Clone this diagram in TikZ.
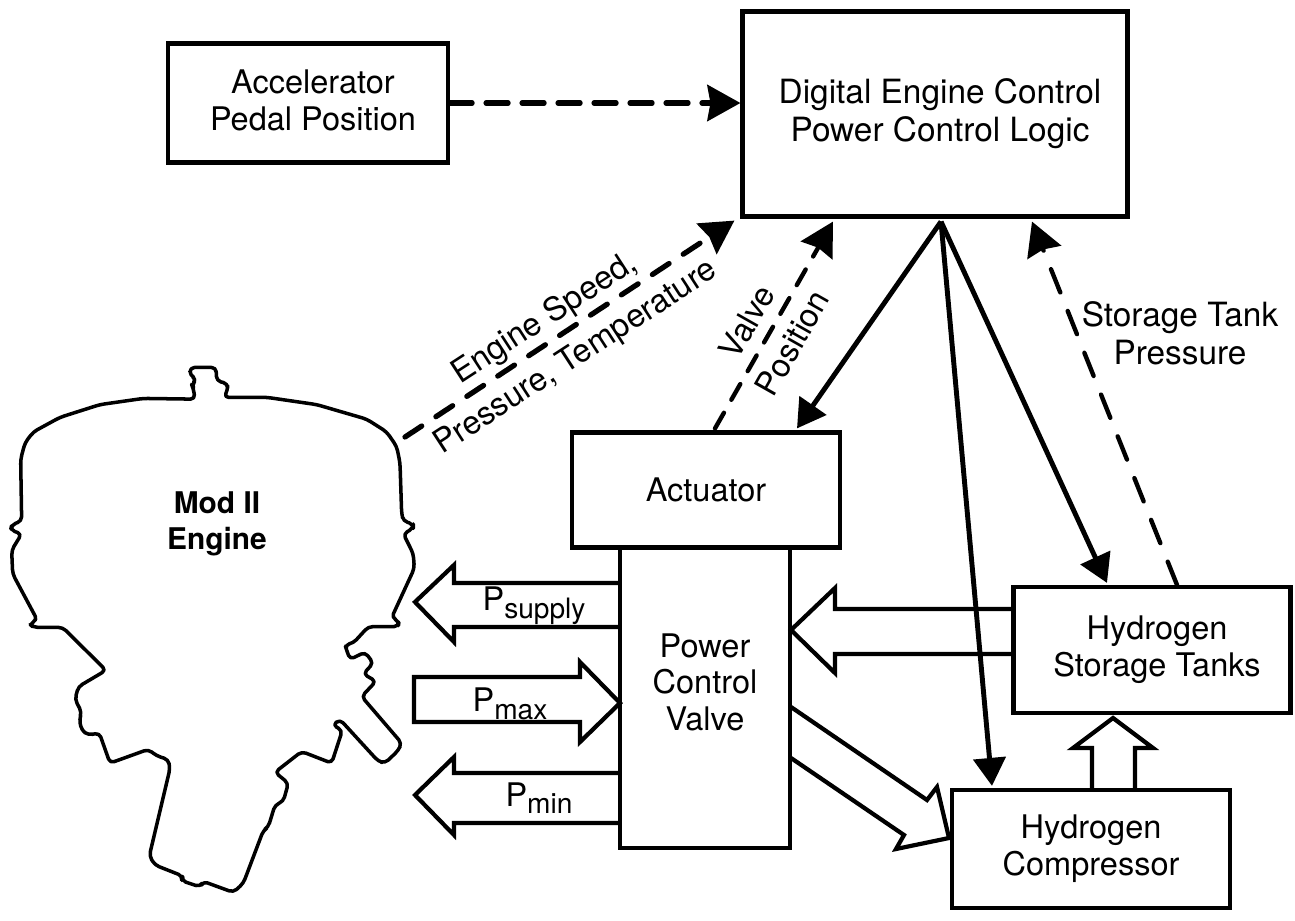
\documentclass[tikz,border=0pt]{standalone}
\usepackage{fontspec}
\setmainfont{TeX Gyre Heros}
\usetikzlibrary{calc,arrows.meta}

\newcommand{\psub}[1]{P\raisebox{-0.45ex}{\fontsize{16}{16}\selectfont #1}}
\newcommand{\nudge}{\hspace*{0.2cm}}

\tikzset{
  block/.style={draw, line width=2.4pt, inner sep=0pt, align=center},
  flow/.style={line width=2.8pt, -{Triangle[length=0.56cm,width=0.64cm]}},
  signal/.style={line width=3pt, line cap=round, -{Stealth[length=0.66cm,width=0.72cm,inset=0.06cm]}},
  thinsignal/.style={signal, line width=2.5pt},
  hollow/.style={line width=2.4pt, line join=miter},
  outline/.style={line width=2pt, rounded corners=2.5pt, line join=round},
  label/.style={inner sep=0pt, align=center}
}

\begin{document}
\begin{tikzpicture}[x=0.02cm, y=-0.02cm, font=\fontsize{18.5}{21}\selectfont]

\useasboundingbox (0,0) rectangle (1295,920);

\node[block, minimum width=5.6cm, minimum height=2.38cm] (pedal) at (308,103) {\nudge Accelerator\\\nudge Pedal Position\\[-0.62cm]};
\node[block, minimum width=7.7cm, minimum height=4.1cm, font=\fontsize{19}{21.5}\selectfont] (logic) at (935,114) {\nudge Digital Engine Control\\\nudge Power Control Logic};
\node[block, minimum width=5.36cm, minimum height=2.3cm] (actuator) at (706,490) {Actuator};
\node[block, minimum width=3.4cm, minimum height=6cm] (valve) at (705,698) {Power\\Control\\Valve\\[-0.1cm]};
\node[block, minimum width=5.54cm, minimum height=2.52cm] (tanks) at (1152,650) {\nudge Hydrogen\\\nudge Storage Tanks};
\node[block, minimum width=5.56cm, minimum height=2.36cm] (compressor) at (1091,849) {Hydrogen\\Compressor};

% free ends on the box edges
\coordinate (logic out) at ($(logic.south)+(6,3)$);
\coordinate (valve in) at ($(logic.south)+(-102,3)$);
\coordinate (engine in) at ($(logic.south west)+(-6,2)$);
\coordinate (tank in) at ($(logic.south)+(97,3)$);
\coordinate (actuator in) at ($(actuator.north)+(91,-2)$);
\coordinate (actuator out) at ($(actuator.north)+(9,-2)$);
\coordinate (tanks in) at ($(tanks.north)+(-45,-2)$);
\coordinate (tanks out) at ($(tanks.north)+(25,0)$);
\coordinate (compressor in) at ($(compressor.north)+(-99,-2)$);
\coordinate (engine out) at (405,437);

\draw[signal, dash pattern=on 0.44cm off 0.28cm] (pedal.east) -- (pedal.east -| logic.west);
\draw[signal, dash pattern=on 0.4cm off 0.34cm] (engine out) -- (engine in);
\draw[thinsignal, dash pattern=on 0.36cm off 0.3cm] (actuator out) -- (valve in);
\draw[thinsignal, dash pattern=on 0.5cm off 0.4cm] (tanks out) -- (tank in);
\draw[flow] (logic out) -- (actuator in);
\draw[flow] (logic out) -- (compressor in);
\draw[flow] (logic out) -- (tanks in);

% hollow arrows
\draw[hollow] (620,583) -- (454,583) -- (454,565) -- (415,602) -- (454,642) -- (454,627) -- (620,627);
\draw[hollow] (580,677) -- (414,677) -- (414,722) -- (580,722) -- (580,742) -- (620,703) -- (580,662) -- cycle;
\draw[hollow] (620,773) -- (454,773) -- (454,757) -- (415,795) -- (454,835) -- (454,823) -- (620,823);
\draw[hollow] (1013,609) -- (835,609) -- (835,588) -- (791,630) -- (835,673) -- (835,654) -- (1013,654);
\draw[hollow] (791,707) -- (927,800) -- (937,787) -- (949,838) -- (896,849) -- (904,835) -- (791,758);
\draw[hollow] (1092,788) -- (1092,748) -- (1073,748) -- (1113,718) -- (1153,748) -- (1135,748) -- (1135,788);

% engine outline, traced from the left of the cap
\begin{scope}[shift={(0,350)}, xscale=1/3, yscale=0.364]
\draw[outline] (585,135) -- (580,105) -- (575,95) -- (590,80) -- (570,70) -- (570,48) -- (648,48) -- (650,85) -- (683,92) -- (683,110) -- (672,130)
  -- (800,130) -- (950,150) -- (1100,190) -- (1160,225) -- (1190,265) -- (1200,310) -- (1205,450) -- (1210,470) -- (1240,478) -- (1240,490) -- (1210,505)
  -- (1240,560) -- (1243,600) -- (1175,735) -- (1197,745) -- (1195,760) -- (1105,760) -- (1060,805) -- (1035,810) -- (1040,825) -- (1050,850) -- (1095,830)
  -- (1120,860) -- (1090,890) -- (1128,910) -- (1085,952) -- (1205,1080) -- (1195,1100) -- (1155,1135) -- (1135,1130) -- (1020,1015) -- (998,1030) -- (1027,1045)
  -- (995,1135) -- (905,1103) -- (825,1160) -- (865,1190) -- (850,1240) -- (825,1250) -- (805,1310) -- (790,1320) -- (730,1465) -- (700,1490) -- (610,1460)
  -- (600,1475) -- (545,1458) -- (548,1445) -- (465,1415) -- (448,1390) -- (510,1150) -- (505,1125) -- (470,1115) -- (445,1097) -- (330,1135) -- (298,1052)
  -- (265,1058) -- (245,1045) -- (238,1015) -- (245,995) -- (225,960) -- (235,925) -- (318,880) -- (188,762) -- (100,762) -- (88,752) -- (112,742) -- (38,615)
  -- (35,550) -- (65,505) -- (32,495) -- (35,480) -- (65,470) -- (62,300) -- (75,255) -- (100,225) -- (180,185) -- (300,150) -- (430,133) -- cycle;
\end{scope}

\node[label, font=\fontsize{17}{20.5}\selectfont\bfseries] (engine) at (217,524) {Mod II\\Engine};

\node[label, rotate=33] (speed) at (545,319) {Engine Speed,};
\node[label, rotate=33] (sensors) at (576,358) {Pressure, Temperature};
\node[label, rotate=60.5] (position a) at (747,322) {Valve};
\node[label, rotate=60.5] (position b) at (792,343) {Position};
\node[label, font=\fontsize{19}{21.5}\selectfont] (pressure) at (1180,333) {Storage Tank\\Pressure};

\node[label] (psupply) at (534,606) {\psub{supply}};
\node[label] (pmax) at (510,704) {\psub{max}};
\node[label] (pmin) at (539,798) {\psub{min}};

\end{tikzpicture}
\end{document}
